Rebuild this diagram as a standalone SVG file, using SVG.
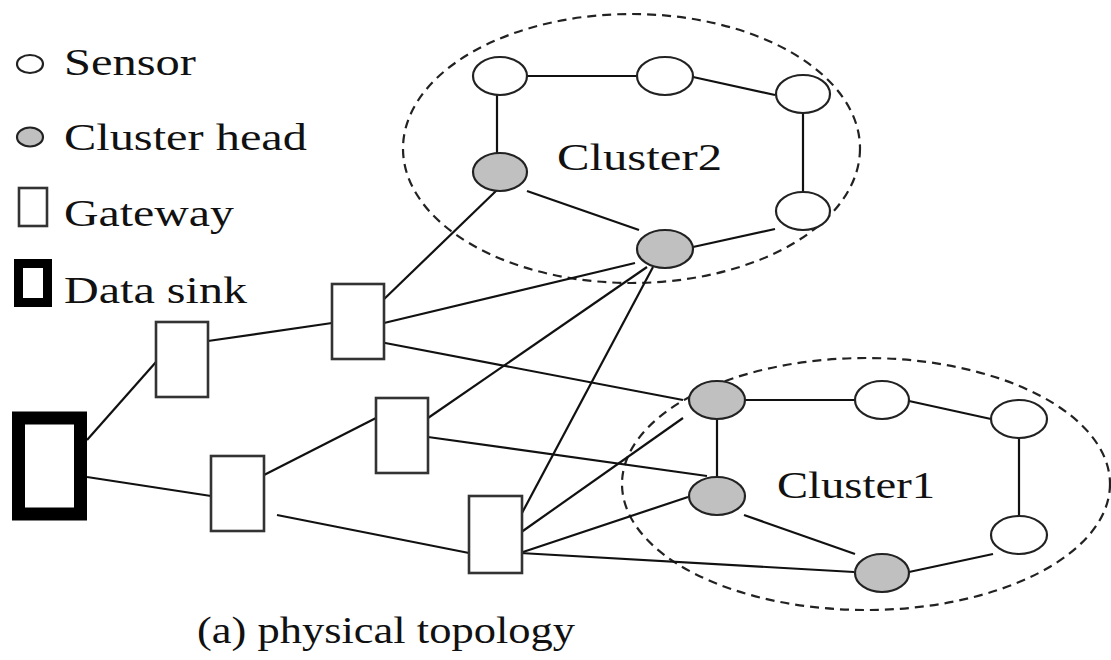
<svg xmlns="http://www.w3.org/2000/svg" width="1111" height="660" viewBox="0 0 1111 660">
<style>
text{font-family:"Liberation Serif","Times New Roman",serif;font-size:37px;fill:#111}
.cl{fill:none;stroke:#222;stroke-width:2.2;stroke-dasharray:9 6}
.sn{fill:#fff;stroke:#222;stroke-width:2.2}
.ch{fill:#c0c0c0;stroke:#222;stroke-width:2.2}
.gw{fill:#fff;stroke:#333;stroke-width:2.6}
.ds{fill:#fff;stroke:#000}
#connectors line{stroke:#111;stroke-width:2.2}
</style>
<rect width="1111" height="660" fill="#fff"/>
<g id="legend">
<ellipse class="sn" cx="30" cy="64" rx="13" ry="9"/>
<text x="64" y="75" textLength="132" lengthAdjust="spacingAndGlyphs">Sensor</text>
<ellipse class="ch" cx="30" cy="137" rx="13" ry="9.5"/>
<text x="64" y="150" textLength="243" lengthAdjust="spacingAndGlyphs">Cluster head</text>
<rect class="gw" x="19" y="188" width="28" height="38"/>
<text x="64" y="226" textLength="170" lengthAdjust="spacingAndGlyphs">Gateway</text>
<rect class="ds" x="18.5" y="263.5" width="29" height="39" stroke-width="9"/>
<text x="64" y="303" textLength="183" lengthAdjust="spacingAndGlyphs">Data sink</text>
</g>
<g id="cluster2">
<ellipse class="cl" cx="631.5" cy="148.5" rx="228.5" ry="134.5"/>
<text x="557" y="170" textLength="165" lengthAdjust="spacingAndGlyphs">Cluster2</text>
</g>
<g id="cluster1">
<ellipse class="cl" cx="866" cy="484" rx="244" ry="126"/>
<text x="777" y="498" textLength="158" lengthAdjust="spacingAndGlyphs">Cluster1</text>
</g>
<g id="connectors">
<line x1="87" y1="440" x2="156" y2="362"/>
<line x1="87" y1="477" x2="211" y2="496"/>
<line x1="208" y1="341" x2="332" y2="323"/>
<line x1="264" y1="475" x2="376" y2="418"/>
<line x1="277" y1="515" x2="469" y2="553"/>
<line x1="380" y1="303" x2="497" y2="190"/>
<line x1="384" y1="323" x2="635" y2="263"/>
<line x1="380" y1="342" x2="683" y2="400"/>
<line x1="428" y1="418" x2="647" y2="267"/>
<line x1="428" y1="437" x2="707" y2="476"/>
<line x1="522" y1="513" x2="653" y2="267"/>
<line x1="520" y1="533" x2="683" y2="418"/>
<line x1="520" y1="553" x2="688" y2="497"/>
<line x1="520" y1="553" x2="854" y2="572"/>
<line x1="527" y1="76" x2="637" y2="76"/>
<line x1="693" y1="77" x2="775" y2="95"/>
<line x1="803" y1="113" x2="803" y2="192"/>
<line x1="775" y1="229" x2="693" y2="247"/>
<line x1="497" y1="90" x2="497" y2="153"/>
<line x1="527" y1="191" x2="639" y2="230"/>
<line x1="745" y1="400" x2="854" y2="400"/>
<line x1="909" y1="401" x2="991" y2="419"/>
<line x1="1019" y1="438" x2="1019" y2="516"/>
<line x1="993" y1="554" x2="909" y2="572"/>
<line x1="717" y1="419" x2="717" y2="477"/>
<line x1="744" y1="515" x2="855" y2="554"/>
</g>
<g id="sink"><rect class="ds" x="18.5" y="418" width="62" height="96" stroke-width="13"/></g>
<g id="gw1"><rect class="gw" x="156" y="322" width="52" height="75"/></g>
<g id="gw2"><rect class="gw" x="332" y="284" width="52" height="75"/></g>
<g id="gw3"><rect class="gw" x="376" y="398" width="52" height="75"/></g>
<g id="gw4"><rect class="gw" x="211" y="456" width="53" height="75"/></g>
<g id="gw5"><rect class="gw" x="469" y="496" width="53" height="77"/></g>
<g id="s2a"><ellipse class="sn" cx="500" cy="76" rx="27" ry="19"/></g>
<g id="s2b"><ellipse class="sn" cx="665" cy="76" rx="28" ry="19"/></g>
<g id="s2c"><ellipse class="sn" cx="803" cy="94" rx="27" ry="19"/></g>
<g id="s2d"><ellipse class="sn" cx="803" cy="211" rx="27" ry="19"/></g>
<g id="ch2a"><ellipse class="ch" cx="500" cy="172" rx="27" ry="19"/></g>
<g id="ch2b"><ellipse class="ch" cx="665" cy="249" rx="28" ry="19"/></g>
<g id="ch1a"><ellipse class="ch" cx="717" cy="400" rx="28" ry="19"/></g>
<g id="s1b"><ellipse class="sn" cx="882" cy="400" rx="27" ry="19"/></g>
<g id="s1c"><ellipse class="sn" cx="1019" cy="419" rx="28" ry="19"/></g>
<g id="s1d"><ellipse class="sn" cx="1019" cy="535" rx="28" ry="19"/></g>
<g id="ch1b"><ellipse class="ch" cx="717" cy="496" rx="28" ry="19"/></g>
<g id="ch1c"><ellipse class="ch" cx="882" cy="573" rx="27" ry="19"/></g>
<g id="caption"><text x="197" y="643" textLength="378" lengthAdjust="spacingAndGlyphs">(a) physical topology</text></g>
</svg>
